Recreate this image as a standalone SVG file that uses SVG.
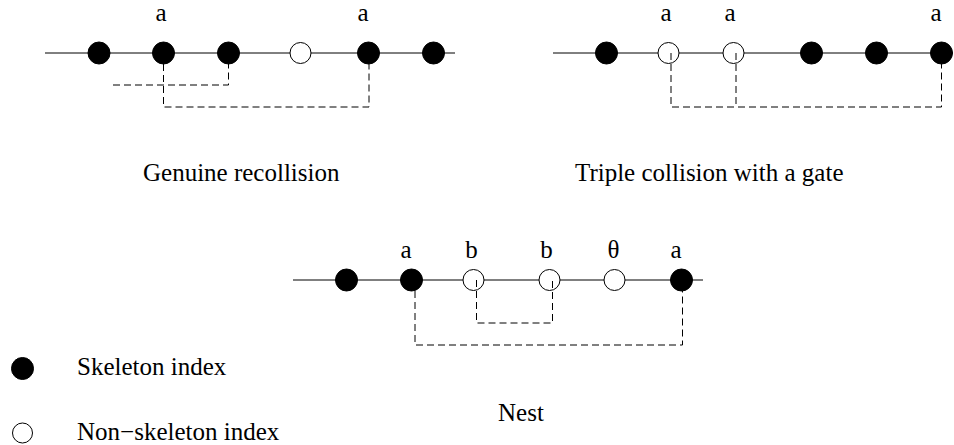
<svg xmlns="http://www.w3.org/2000/svg" width="954" height="445" viewBox="0 0 954 445">
<style>
.axis{stroke:#000;stroke-width:1;fill:none}
.sk{fill:#000;stroke:#000;stroke-width:1}
.ns{fill:#fff;stroke:#000;stroke-width:1}
.dash{stroke:#000;stroke-width:1;fill:none;stroke-dasharray:7,4}
text{font-family:"Liberation Serif","Times New Roman",serif;fill:#000}
.lbl{font-size:25px;text-anchor:middle}
.cap{font-size:25px}
</style>
<rect width="954" height="445" fill="#fff"/>
<g id="panel1">
<line class="axis" x1="45" y1="53" x2="455" y2="53"/>
<g id="p1n1"><circle class="sk" cx="99" cy="53" r="11"/></g>
<g id="p1n2"><circle class="sk" cx="163.5" cy="53" r="11"/><text class="lbl" x="161" y="21">a</text></g>
<g id="p1n3"><circle class="sk" cx="228.5" cy="53" r="11"/></g>
<g id="p1n4"><circle class="ns" cx="300.5" cy="53" r="10.5"/></g>
<g id="p1n5"><circle class="sk" cx="368.5" cy="53" r="11"/><text class="lbl" x="363" y="21">a</text></g>
<g id="p1n6"><circle class="sk" cx="433.5" cy="53" r="11"/></g>
<text class="cap" x="143" y="181">Genuine recollision</text>
</g>
<g id="panel2">
<line class="axis" x1="553" y1="53" x2="953" y2="53"/>
<g id="p2n1"><circle class="sk" cx="606.5" cy="53" r="11"/></g>
<g id="p2n2"><circle class="ns" cx="668.5" cy="53" r="10.5"/><text class="lbl" x="666" y="21">a</text></g>
<g id="p2n3"><circle class="ns" cx="733.5" cy="53" r="10.5"/><text class="lbl" x="730" y="21">a</text></g>
<g id="p2n4"><circle class="sk" cx="811.5" cy="53" r="11"/></g>
<g id="p2n5"><circle class="sk" cx="876.5" cy="53" r="11"/></g>
<g id="p2n6"><circle class="sk" cx="941.5" cy="53" r="11"/><text class="lbl" x="936" y="21">a</text></g>
<text class="cap" x="575" y="181">Triple collision with a gate</text>
</g>
<g id="panel3">
<line class="axis" x1="293" y1="280" x2="703" y2="280"/>
<g id="p3n1"><circle class="sk" cx="346.5" cy="280" r="11"/></g>
<g id="p3n2"><circle class="sk" cx="411.5" cy="280" r="11"/><text class="lbl" x="406" y="258">a</text></g>
<g id="p3n3"><circle class="ns" cx="473.5" cy="280" r="10.5"/><text class="lbl" x="471.5" y="258">b</text></g>
<g id="p3n4"><circle class="ns" cx="549.5" cy="280" r="10.5"/><text class="lbl" x="546.5" y="258">b</text></g>
<g id="p3n5"><circle class="ns" cx="614.5" cy="280" r="10.5"/><text class="lbl" x="613.5" y="258">θ</text></g>
<g id="p3n6"><circle class="sk" cx="681.5" cy="280" r="11"/><text class="lbl" x="676" y="258">a</text></g>
<text class="cap" x="498" y="421">Nest</text>
</g>
<g id="connectors">
<path class="dash" d="M163.5,64 V107 H369 V64"/>
<path class="dash" d="M113,85 H228.5 V64"/>
<path class="dash" d="M671,53 V107 H941.5 V64"/>
<path class="dash" d="M736,53 V107"/>
<path class="dash" d="M476.5,280 V323 H552.5 V280"/>
<path class="dash" d="M415,291 V345 H682.5 V291"/>
</g>
<g id="legend">
<g id="legend-skeleton"><circle class="sk" cx="22.5" cy="368.5" r="11"/><text class="cap" x="77" y="375">Skeleton index</text></g>
<g id="legend-nonskeleton"><circle class="ns" cx="22.5" cy="433" r="10"/><text class="cap" x="77" y="440">Non−skeleton index</text></g>
</g>
</svg>
